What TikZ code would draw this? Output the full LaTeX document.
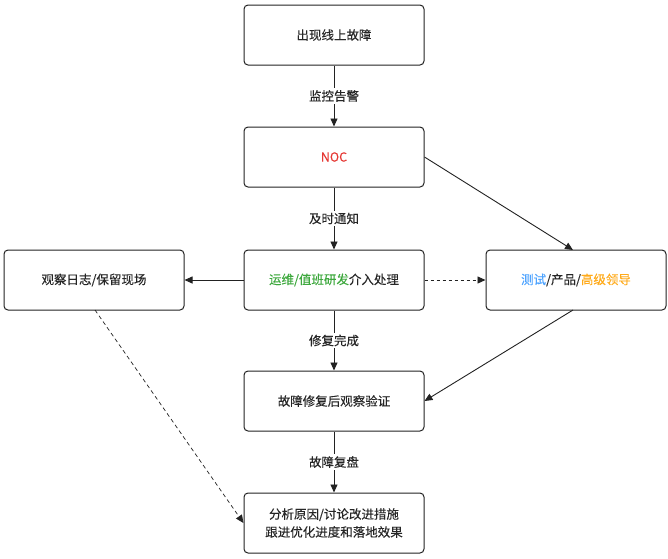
\documentclass[tikz,border=0pt]{standalone}
\usepackage{fontspec}
\setmainfont{Noto Sans CJK SC}[BoldFont=Noto Sans CJK SC, BoldFeatures={FakeBold=0.2}]
\usetikzlibrary{arrows.meta}
\definecolor{nocred}{HTML}{E53935}
\definecolor{opgreen}{HTML}{3DA83D}
\definecolor{testblue}{HTML}{4DA3FF}
\definecolor{leadorange}{HTML}{FFAA1A}
\definecolor{linegray}{HTML}{222222}
\begin{document}
\begin{tikzpicture}[x=1pt,y=-1pt,
  box/.style={draw=linegray,line width=1pt,rounded corners=4pt,minimum width=180pt,minimum height=60pt,inner sep=0pt,align=center,font=\fontsize{12.5}{18}\selectfont\bfseries,text=black!85},
  conn/.style={draw=linegray,line width=0.9pt,-{Triangle[length=8pt,width=7pt]}},
  lab/.style={fill=white,font=\fontsize{12.5}{15}\selectfont\bfseries,text=black!85,inner sep=2pt}]
\useasboundingbox (0,0) rectangle (668,558);
\node[box] (b1) at (334,35) {出现线上故障};
\node[box] (b2) at (334,157) {\textcolor{nocred}{NOC}};
\node[box] (b3) at (334,280) {\textcolor{opgreen}{运维/值班研发}介入处理};
\node[box] (bl) at (94,280) {观察日志/保留现场};
\node[box] (br) at (576,280) {\textcolor{testblue}{测试}/产品/\textcolor{leadorange}{高级领导}};
\node[box] (b4) at (334,401) {故障修复后观察验证};
\node[box] (b5) at (334,523) {分析原因/讨论改进措施\\跟进优化进度和落地效果};
\draw[conn] (b1) -- node[lab] {监控告警} (b2);
\draw[conn] (b2) -- node[lab] {及时通知} (b3);
\draw[conn] (b3) -- node[lab] {修复完成} (b4);
\draw[conn] (b4) -- node[lab] {故障复盘} (b5);
\draw[conn] (b3) -- (bl);
\draw[conn,dashed] (b3) -- (br);
\coordinate (rt) at (573,250);
\coordinate (rb) at (573,310);
\coordinate (lb) at (95,310);
\draw[conn] (b2.east) -- (rt);
\draw[conn] (rb) -- (b4.east);
\draw[conn,dashed,dash pattern=on 4pt off 3pt,line width=0.7pt] (lb) -- (b5.west);
\end{tikzpicture}
\end{document}
